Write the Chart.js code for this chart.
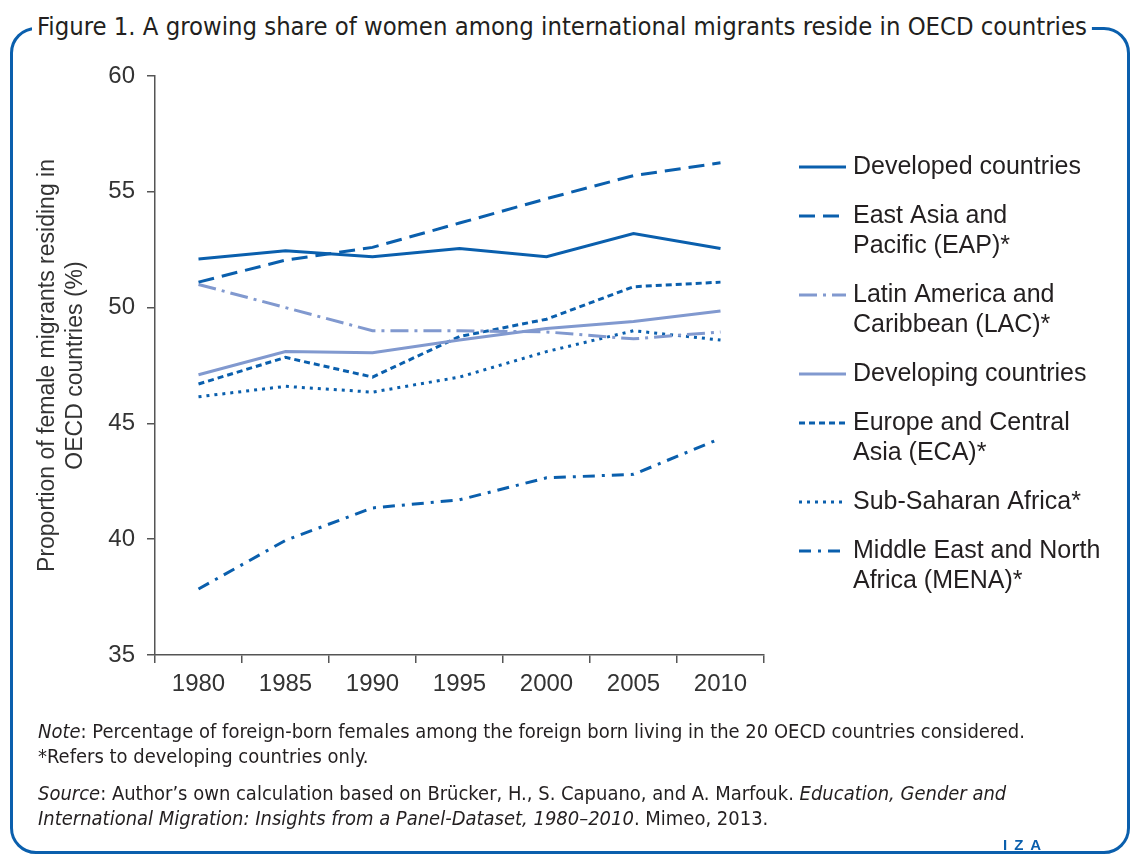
<!DOCTYPE html>
<html>
<head>
<meta charset="utf-8">
<script src="https://cdn.jsdelivr.net/npm/chart.js@4/dist/chart.umd.min.js"></script>
<style>
  body { margin: 0; background: #fff; width: 1140px; height: 854px; overflow: hidden; position: relative; font-family: "Liberation Sans", Arial, sans-serif; color: #231f20; }
  #frame { position: absolute; left: 10px; top: 27px; width: 1120px; height: 827px; border: 3px solid #0a5fad; border-radius: 26px; box-sizing: border-box; }
  #title { position: absolute; left: 32px; top: 11px; padding: 0 5px; background: #fff; white-space: nowrap; font-family: "Liberation Sans Narrow", "DejaVu Sans Condensed", sans-serif; font-size: 25px; line-height: 32px; transform-origin: left center; }
  #chart { position: absolute; left: 0; top: 0; }
  .note { position: absolute; left: 38px; white-space: nowrap; font-family: "Liberation Sans Narrow", "DejaVu Sans Condensed", sans-serif; font-size: 19px; line-height: 24px; transform-origin: left center; }
  #iza { position: absolute; left: 1003px; top: 836px; color: #0a5fad; font-weight: bold; font-size: 15px; letter-spacing: 7px; }
</style>
</head>
<body>
<div id="frame"></div>
<div id="title">Figure 1. A growing share of women among international migrants reside in OECD countries</div>
<canvas id="chart" width="1140" height="854"></canvas>
<div class="note" id="n1" style="top:719px"><i>Note</i>: Percentage of foreign-born females among the foreign born living in the 20 OECD countries considered.</div>
<div class="note" id="n2" style="top:744px">*Refers to developing countries only.</div>
<div class="note" id="n3" style="top:781px"><i>Source</i>: Author’s own calculation based on Brücker, H., S. Capuano, and A. Marfouk. <i>Education, Gender and</i></div>
<div class="note" id="n4" style="top:806px"><i>International Migration: Insights from a Panel-Dataset, 1980–2010</i>. Mimeo, 2013.</div>
<div id="iza">IZA</div>
<script>
// 연도 (x축)
const years = ['1980', '1985', '1990', '1995', '2000', '2005', '2010'];

// 각 지역별 여성 이주민 비율 (%)
const developed  = [52.1, 52.45, 52.2, 52.55, 52.2, 53.2, 52.55];
const eap        = [51.1, 52.05, 52.6, 53.65, 54.7, 55.7, 56.25];
const lac        = [51.0, 50.0, 49.0, 49.0, 48.95, 48.65, 48.95];
const developing = [47.1, 48.1, 48.05, 48.6, 49.1, 49.4, 49.85];
const eca        = [46.7, 47.85, 47.0, 48.75, 49.5, 50.9, 51.1];
const ssa        = [46.15, 46.6, 46.35, 47.0, 48.1, 49.0, 48.6];
const mena       = [37.85, 39.95, 41.35, 41.7, 42.65, 42.8, 44.35];

// 범례 레이블 (줄바꿈 포함)
const legendLabels = [
    ['Developed countries'],
    ['East Asia and', 'Pacific (EAP)*'],
    ['Latin America and', 'Caribbean (LAC)*'],
    ['Developing countries'],
    ['Europe and Central', 'Asia (ECA)*'],
    ['Sub-Saharan Africa*'],
    ['Middle East and North', 'Africa (MENA)*']
];

// y축 눈금
const yMin = 35, yMax = 60, yStep = 5;

const dark = '#0a5fad';
const light = '#8199cf';

function line(data, color, dash) {
    return {
        data: data,
        borderColor: color,
        backgroundColor: color,
        borderWidth: 3,
        borderDash: dash,
        borderCapStyle: 'butt',
        pointRadius: 0,
        fill: false,
        tension: 0
    };
}

// 범례를 캔버스에 직접 그리는 플러그인
const sideLegend = {
    id: 'sideLegend',
    afterDraw(chart) {
        const c = chart.ctx;
        let y = 167;
        chart.data.datasets.forEach((ds, i) => {
            const rows = legendLabels[i];
            c.save();
            c.strokeStyle = ds.borderColor;
            c.lineWidth = 3;
            c.setLineDash(ds.borderDash || []);
            c.beginPath();
            c.moveTo(799, y);
            c.lineTo(846, y);
            c.stroke();
            c.restore();
            c.save();
            c.fillStyle = '#231f20';
            c.font = '25px "Liberation Sans", Arial, sans-serif';
            c.textBaseline = 'middle';
            rows.forEach((t, j) => c.fillText(t, 853, y + j * 30));
            c.restore();
            y += (rows.length - 1) * 30 + 49;
        });
    }
};

const ctx = document.getElementById('chart').getContext('2d');
const chart = new Chart(ctx, {
    type: 'line',
    data: {
        labels: years,
        datasets: [
            line(developed, dark, []),
            line(eap, dark, [16, 8]),
            line(lac, light, [18, 6, 3, 6]),
            line(developing, light, []),
            line(eca, dark, [6, 4]),
            line(ssa, dark, [3, 5]),
            line(mena, dark, [12, 7, 3, 7])
        ]
    },
    options: {
        responsive: false,
        animation: false,
        layout: { padding: { left: 30, top: 76, right: 376, bottom: 0 } },
        plugins: { legend: { display: false }, tooltip: { enabled: false } },
        scales: {
            x: {
                offset: true,
                afterFit: s => { s.height = 199; },
                grid: { offset: true, drawOnChartArea: false, drawTicks: true, tickLength: 8, color: '#555', lineWidth: 1.5 },
                border: { color: '#555', width: 1.5 },
                ticks: { color: '#333', padding: 7, font: { family: '"Liberation Sans", Arial, sans-serif', size: 24 } }
            },
            y: {
                min: yMin,
                max: yMax,
                afterFit: s => { s.width = 125; },
                grid: { drawOnChartArea: false, drawTicks: true, tickLength: 8, color: '#555', lineWidth: 1.5 },
                border: { color: '#555', width: 1.5 },
                ticks: { stepSize: yStep, color: '#333', padding: 12, font: { family: '"Liberation Sans", Arial, sans-serif', size: 24 } },
                title: {
                    display: true,
                    text: ['Proportion of female migrants residing in', 'OECD countries (%)'],
                    color: '#333',
                    padding: { top: 4, bottom: 0 },
                    font: { family: '"Liberation Sans", Arial, sans-serif', size: 23, lineHeight: 1.22 }
                }
            }
        }
    },
    plugins: [sideLegend]
});

// 제목/주석 폭 맞추기
function fitWidth(el, w) {
    const r = el.getBoundingClientRect().width;
    el.style.transform = 'scaleX(' + (w / r) + ')';
    return w / r;
}
fitWidth(document.getElementById('title'), 1060);
const k = fitWidth(document.getElementById('n1'), 987);
['n2', 'n3', 'n4'].forEach(id => {
    document.getElementById(id).style.transform = 'scaleX(' + k + ')';
});
</script>
</body>
</html>
